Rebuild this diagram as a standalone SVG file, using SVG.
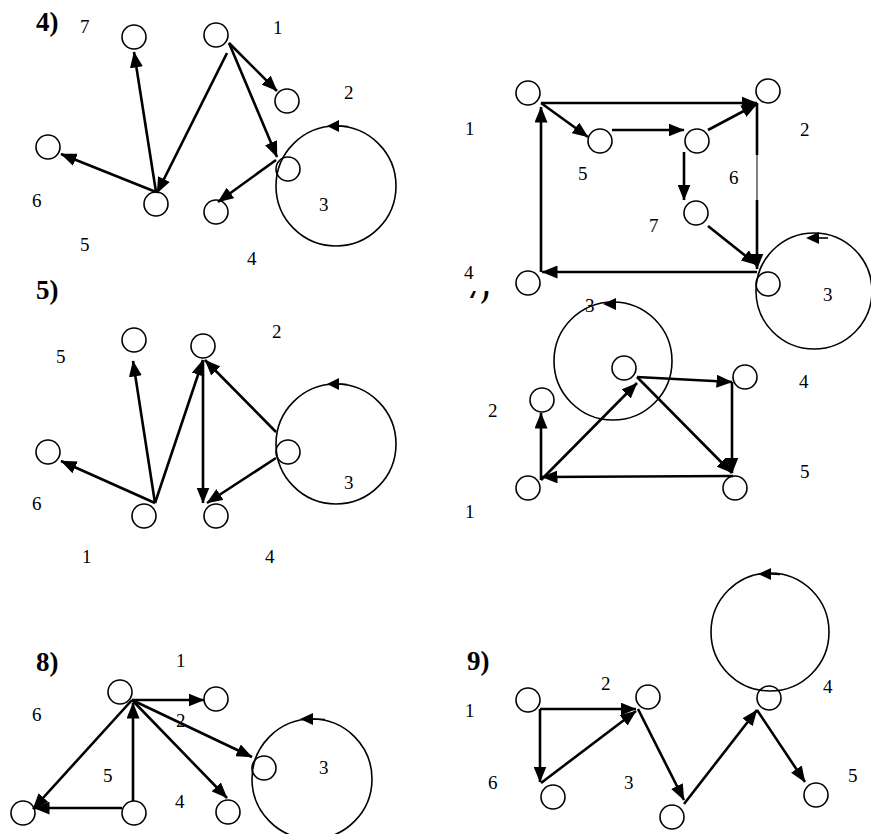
<svg xmlns="http://www.w3.org/2000/svg" width="871" height="834" viewBox="0 0 871 834">
<style>
.node{fill:none;stroke:#000;stroke-width:1.6}
.loop{fill:none;stroke:#000;stroke-width:1.6}
.la{fill:#000;stroke:none}
.lt{stroke:#000;stroke-width:1.6}
.edge{stroke:#000;stroke-width:2.6;fill:none;marker-end:url(#ah)}
.thin{stroke:#000;stroke-width:1;fill:none}
.lbl{font-family:"Liberation Serif","Times New Roman",serif;font-size:19px;fill:#000}
.ttl{font-family:"Liberation Serif","Times New Roman",serif;font-size:27px;font-weight:bold;fill:#000}
</style>
<defs>
<marker id="ah" markerUnits="userSpaceOnUse" markerWidth="17" markerHeight="13" refX="15.5" refY="6.5" orient="auto">
<path d="M0,0 L16,6.5 L0,13 Z" fill="#000"/>
</marker>
<clipPath id="clip7"><rect x="455" y="291" width="60" height="20"/></clipPath>
</defs>
<rect width="871" height="834" fill="#fff"/>

<!-- Panel 4 -->
<g id="panel4">
<text class="ttl" x="36" y="31">4)</text>
<g id="p4n1"><circle class="node" cx="216" cy="35" r="12"/><text class="lbl" x="273" y="34">1</text></g>
<g id="p4n2"><circle class="node" cx="287" cy="101" r="12"/><text class="lbl" x="344" y="99">2</text></g>
<g id="p4n3"><circle class="node" cx="288" cy="169" r="12"/><text class="lbl" x="319" y="211">3</text>
<circle class="loop" cx="336" cy="186" r="60"/><polygon class="la" points="327,126 339,120 339,132"/><line class="lt" x1="339" y1="126" x2="348" y2="126.5"/></g>
<g id="p4n4"><circle class="node" cx="216" cy="212" r="12"/><text class="lbl" x="247" y="265">4</text></g>
<g id="p4n5"><circle class="node" cx="156" cy="204" r="12"/><text class="lbl" x="80" y="251">5</text></g>
<g id="p4n6"><circle class="node" cx="48" cy="147" r="12"/><text class="lbl" x="32" y="207">6</text></g>
<g id="p4n7"><circle class="node" cx="134" cy="37" r="12"/><text class="lbl" x="80" y="33">7</text></g>
</g>

<!-- Panel 6 -->
<g id="panel6">
<g id="p6n1"><circle class="node" cx="528" cy="93" r="12"/><text class="lbl" x="465" y="135">1</text></g>
<g id="p6n2"><circle class="node" cx="768" cy="91" r="12"/><text class="lbl" x="800" y="136">2</text></g>
<g id="p6n3"><circle class="node" cx="768" cy="284" r="12"/><text class="lbl" x="823" y="301">3</text>
<circle class="loop" cx="814" cy="291" r="58"/><polygon class="la" points="806,238 819,232 819,244"/><line class="lt" x1="819" y1="238" x2="828" y2="238"/></g>
<g id="p6n4"><circle class="node" cx="528" cy="283" r="12"/><text class="lbl" x="464" y="279">4</text></g>
<g id="p6n5"><circle class="node" cx="600" cy="141" r="12"/><text class="lbl" x="578" y="180">5</text></g>
<g id="p6n6"><circle class="node" cx="697" cy="141" r="12"/><text class="lbl" x="729" y="184">6</text></g>
<g id="p6n7"><circle class="node" cx="696" cy="213" r="12"/><text class="lbl" x="649" y="232">7</text></g>
</g>

<!-- Panel 7 -->
<g id="panel7">
<text class="ttl" x="467" y="298" clip-path="url(#clip7)">7)</text>
<g id="p7n1"><circle class="node" cx="528" cy="488" r="12"/><text class="lbl" x="465" y="518">1</text></g>
<g id="p7n2"><circle class="node" cx="542" cy="400" r="12"/><text class="lbl" x="488" y="417">2</text></g>
<g id="p7n3"><circle class="node" cx="624" cy="368" r="12"/>
<circle class="loop" cx="613" cy="361" r="59"/><polygon class="la" points="603,304 616,298 616,310"/><text class="lbl" x="585" y="312">3</text></g>
<g id="p7n4"><circle class="node" cx="745" cy="377" r="12"/><text class="lbl" x="799" y="388">4</text></g>
<g id="p7n5"><circle class="node" cx="735" cy="488" r="12"/><text class="lbl" x="800" y="478">5</text></g>
</g>

<!-- Panel 5 -->
<g id="panel5">
<text class="ttl" x="36" y="299">5)</text>
<g id="p5n1"><circle class="node" cx="144" cy="516" r="12"/><text class="lbl" x="82" y="563">1</text></g>
<g id="p5n2"><circle class="node" cx="203" cy="346" r="12"/><text class="lbl" x="272" y="338">2</text></g>
<g id="p5n3"><circle class="node" cx="288" cy="452" r="12"/><text class="lbl" x="344" y="489">3</text>
<circle class="loop" cx="336" cy="444" r="60"/><polygon class="la" points="327,384 339,378 339,390"/><line class="lt" x1="339" y1="384" x2="347" y2="384.5"/></g>
<g id="p5n4"><circle class="node" cx="216" cy="516" r="12"/><text class="lbl" x="265" y="563">4</text></g>
<g id="p5n5"><circle class="node" cx="134" cy="340" r="12"/><text class="lbl" x="56" y="363">5</text></g>
<g id="p5n6"><circle class="node" cx="48" cy="452" r="12"/><text class="lbl" x="32" y="510">6</text></g>
</g>

<!-- Panel 8 -->
<g id="panel8">
<text class="ttl" x="36" y="671">8)</text>
<g id="p8n1"><circle class="node" cx="120" cy="692" r="12"/><text class="lbl" x="176" y="667">1</text></g>
<g id="p8n2"><circle class="node" cx="216" cy="699" r="12"/><text class="lbl" x="176" y="727">2</text></g>
<g id="p8n3"><circle class="node" cx="264" cy="768" r="12"/><text class="lbl" x="319" y="774">3</text>
<circle class="loop" cx="312" cy="779" r="60"/><polygon class="la" points="300,719 313,713 313,725"/><line class="lt" x1="313" y1="719" x2="325" y2="719.5"/></g>
<g id="p8n4"><circle class="node" cx="228" cy="812" r="12"/><text class="lbl" x="175" y="808">4</text></g>
<g id="p8n5"><circle class="node" cx="134" cy="813" r="12"/><text class="lbl" x="103" y="782">5</text></g>
<g id="p8n6"><circle class="node" cx="23" cy="813" r="12"/><text class="lbl" x="32" y="721">6</text></g>
</g>

<!-- Panel 9 -->
<g id="panel9">
<text class="ttl" x="467" y="670">9)</text>
<g id="p9n1"><circle class="node" cx="528" cy="700" r="12"/><text class="lbl" x="465" y="717">1</text></g>
<g id="p9n2"><circle class="node" cx="648" cy="697" r="12"/><text class="lbl" x="601" y="690">2</text></g>
<g id="p9n3"><circle class="node" cx="672" cy="817" r="12"/><text class="lbl" x="624" y="789">3</text></g>
<g id="p9n4"><circle class="node" cx="769" cy="698" r="12"/><text class="lbl" x="823" y="693">4</text>
<circle class="loop" cx="770" cy="632" r="59"/><polygon class="la" points="758,574 771,568 771,580"/><line class="lt" x1="771" y1="574" x2="780" y2="574.5"/></g>
<g id="p9n5"><circle class="node" cx="816" cy="795" r="12"/><text class="lbl" x="848" y="782">5</text></g>
<g id="p9n6"><circle class="node" cx="553" cy="797" r="12"/><text class="lbl" x="488" y="789">6</text></g>
</g>

<g id="connectors">
<!-- panel 4 -->
<line class="edge" x1="156" y1="192" x2="134" y2="52"/>
<line class="edge" x1="156" y1="192" x2="61" y2="154"/>
<line class="edge" x1="227" y1="53" x2="157" y2="193"/>
<line class="edge" x1="229" y1="43" x2="277" y2="91"/>
<line class="edge" x1="229" y1="43" x2="277" y2="157"/>
<line class="edge" x1="276" y1="160" x2="218" y2="202"/>
<!-- panel 6 -->
<line class="edge" x1="541" y1="103" x2="757" y2="103"/>
<line class="edge" x1="541" y1="103" x2="588" y2="137"/>
<line class="edge" x1="612" y1="130" x2="684" y2="130"/>
<line class="edge" x1="708" y1="130" x2="757" y2="104"/>
<line class="edge" x1="684" y1="152" x2="684" y2="200"/>
<line class="edge" x1="708" y1="226" x2="757" y2="265"/>
<line x1="757" y1="103" x2="757" y2="155" stroke="#000" stroke-width="2.6"/>
<line class="thin" x1="757" y1="155" x2="757" y2="200"/>
<line class="edge" x1="757" y1="200" x2="757" y2="269"/>
<line class="edge" x1="757" y1="272" x2="542" y2="272"/>
<line class="edge" x1="541" y1="272" x2="541" y2="107"/>
<!-- panel 7 -->
<line class="edge" x1="541" y1="480" x2="541" y2="413"/>
<line class="edge" x1="541" y1="480" x2="637" y2="383"/>
<line class="edge" x1="733" y1="476" x2="542" y2="477"/>
<line class="edge" x1="637" y1="377" x2="732" y2="382"/>
<line class="edge" x1="637" y1="377" x2="732" y2="473"/>
<line class="edge" x1="732" y1="382" x2="732" y2="473"/>
<!-- panel 5 -->
<line class="edge" x1="155" y1="503" x2="61" y2="461"/>
<line class="edge" x1="155" y1="503" x2="133" y2="361"/>
<line class="edge" x1="155" y1="503" x2="203" y2="360"/>
<line class="edge" x1="203" y1="360" x2="203" y2="503"/>
<line class="edge" x1="276" y1="432" x2="205" y2="360"/>
<line class="edge" x1="276" y1="458" x2="207" y2="503"/>
<!-- panel 8 -->
<line class="edge" x1="132" y1="700" x2="204" y2="700"/>
<line class="edge" x1="132" y1="700" x2="33" y2="809"/>
<line class="edge" x1="133" y1="801" x2="133" y2="703"/>
<line class="edge" x1="122" y1="808" x2="34" y2="808"/>
<line class="edge" x1="132" y1="700" x2="252" y2="757"/>
<line class="edge" x1="132" y1="700" x2="227" y2="798"/>
<!-- panel 9 -->
<line class="edge" x1="540" y1="709" x2="636" y2="709"/>
<line class="edge" x1="540" y1="709" x2="540" y2="782"/>
<line class="edge" x1="541" y1="783" x2="636" y2="711"/>
<line class="edge" x1="638" y1="709" x2="684" y2="800"/>
<line class="edge" x1="684" y1="804" x2="757" y2="710"/>
<line class="edge" x1="757" y1="710" x2="805" y2="782"/>
</g>
</svg>
